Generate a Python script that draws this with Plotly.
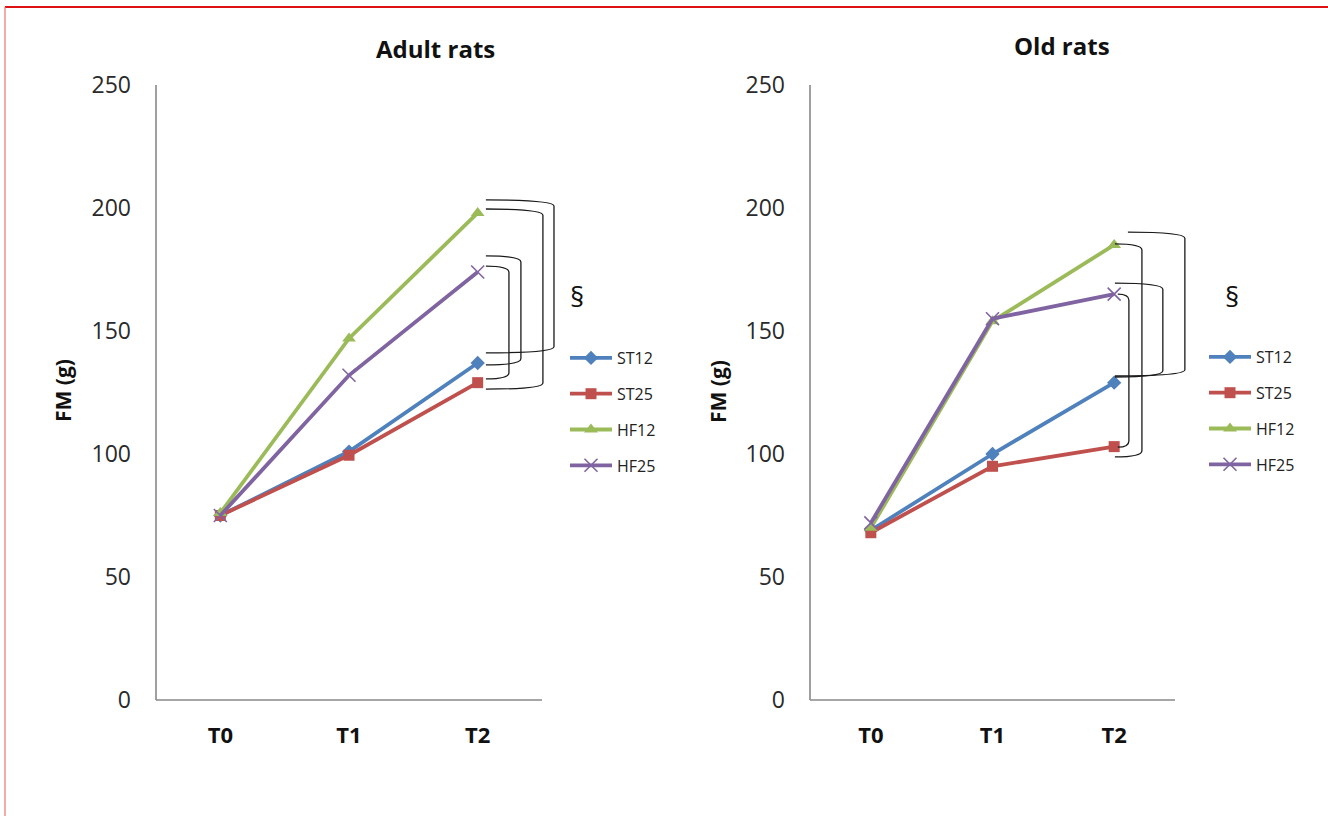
import plotly.graph_objects as go

# ---------------- data ----------------
categories = ["T0", "T1", "T2"]
series_names = ["ST12", "ST25", "HF12", "HF25"]

adult_st12 = [75, 101, 137]
adult_st25 = [75, 99.5, 129]
adult_hf12 = [76, 147, 198]
adult_hf25 = [75, 132, 174]

old_st12 = [69, 100, 129]
old_st25 = [68, 95, 103]
old_hf12 = [70, 154, 185]
old_hf25 = [72, 155, 165]

y_ticks = [0, 50, 100, 150, 200, 250]

panel_titles = ["Adult rats", "Old rats"]
y_title = "FM (g)"
sig_mark = "§"

# significance brackets: (x_left_top, y_top, x_left_bottom, y_bottom, x_right)
adult_brackets = [
    (2.064, 203.3, 2.064, 141.1, 2.593),
    (2.064, 199.6, 2.064, 126.4, 2.507),
    (2.064, 180.5, 2.064, 136.2, 2.336),
    (2.064, 176.4, 2.064, 130.5, 2.243),
]
old_brackets = [
    (2.113, 190.2, 2.006, 131.7, 2.581),
    (2.006, 185.4, 2.006, 98.8, 2.228),
    (2.006, 169.5, 2.006, 131.3, 2.400),
    (2.030, 165.0, 2.030, 102.8, 2.121),
]

# ---------------- styles ----------------
colors = {"ST12": "#4F81BD", "ST25": "#C0504D", "HF12": "#9BBB59", "HF25": "#8064A2"}
symbols = {"ST12": "diamond", "ST25": "square", "HF12": "triangle-up", "HF25": "x-thin"}
msizes = {"ST12": 11, "ST25": 11, "HF12": 12, "HF25": 13}

W, H = 1328, 816
FONT = "Open Sans"
xpos = list(range(len(categories)))

fig = go.Figure()

panels = [
    ("x", "y", "legend", [adult_st12, adult_st25, adult_hf12, adult_hf25]),
    ("x2", "y2", "legend2", [old_st12, old_st25, old_hf12, old_hf25]),
]

for xa, ya, leg, vals in panels:
    for name, v in zip(series_names, vals):
        c = colors[name]
        if symbols[name] == "x-thin":
            marker = dict(symbol="x-thin", size=msizes[name], color=c,
                          line=dict(width=1.6, color=c))
        else:
            marker = dict(symbol=symbols[name], size=msizes[name], color=c,
                          line=dict(width=0))
        fig.add_trace(go.Scatter(
            x=xpos, y=v, name=name, mode="lines+markers",
            line=dict(color=c, width=3.8), marker=marker,
            xaxis=xa, yaxis=ya, legend=leg, legendgroup=leg + name,
            cliponaxis=False,
        ))


def px_x(p):
    return p / W


def px_y(p):
    return 1 - p / H


y_dom = [px_y(704), px_y(80)]
y_rng = [-4 / 2.46, 620 / 2.46]

axis_common = dict(showgrid=False, zeroline=False, showline=False, ticks="", automargin=False)

fig.update_layout(
    template="none",
    width=W, height=H,
    margin=dict(l=0, r=0, t=0, b=0, pad=0, autoexpand=False),
    paper_bgcolor="white", plot_bgcolor="white",
    font=dict(family=FONT, color="#222222"),
    xaxis=dict(domain=[px_x(152), px_x(560)], range=[-0.5 - 4 / 128.67, -0.5 + 404 / 128.67],
               tickvals=xpos, ticktext=categories, anchor="y",
               tickfont=dict(size=22, family=FONT, color="#111111", weight="bold"),
               ticklabelstandoff=16, **axis_common),
    yaxis=dict(domain=y_dom, range=y_rng, tickvals=y_ticks, anchor="x",
               tickfont=dict(size=23, family=FONT, color="#2a2a2a"),
               ticklabelstandoff=20, **axis_common),
    xaxis2=dict(domain=[px_x(806), px_x(1192)], range=[-0.5 - 4 / 121.67, -0.5 + 382 / 121.67],
                tickvals=xpos, ticktext=categories, anchor="y2",
                tickfont=dict(size=22, family=FONT, color="#111111", weight="bold"),
                ticklabelstandoff=16, **axis_common),
    yaxis2=dict(domain=y_dom, range=y_rng, tickvals=y_ticks, anchor="x2",
                tickfont=dict(size=23, family=FONT, color="#2a2a2a"),
                ticklabelstandoff=20, **axis_common),
    legend=dict(x=px_x(565), y=px_y(341), xanchor="left", yanchor="top",
                font=dict(size=16, family=FONT, color="#222222"),
                itemwidth=42, traceorder="grouped", tracegroupgap=12,
                bgcolor="rgba(0,0,0,0)", borderwidth=0),
    legend2=dict(x=px_x(1204), y=px_y(340), xanchor="left", yanchor="top",
                 font=dict(size=16, family=FONT, color="#222222"),
                 itemwidth=42, traceorder="grouped", tracegroupgap=12,
                 bgcolor="rgba(0,0,0,0)", borderwidth=0),
)

shapes = []
axis_col = "#888888"
for xa, ya in [("x", "y"), ("x2", "y2")]:
    shapes.append(dict(type="line", xref=xa, yref=ya, x0=-0.5, x1=2.5, y0=0, y1=0,
                       line=dict(color=axis_col, width=1.6), layer="below"))
    shapes.append(dict(type="line", xref=xa, yref=ya, x0=-0.5, x1=-0.5, y0=0, y1=y_ticks[-1],
                       line=dict(color=axis_col, width=1.6), layer="below"))


def bracket_path(b, d=2.5):
    xl_t, yt, xl_b, yb, xr = b
    return (f"M {xl_t},{yt} Q {xr},{yt} {xr},{yt - d} "
            f"L {xr},{yb + d} Q {xr},{yb} {xl_b},{yb}")


for xa, ya, brs in [("x", "y", adult_brackets), ("x2", "y2", old_brackets)]:
    for b in brs:
        shapes.append(dict(type="path", xref=xa, yref=ya, path=bracket_path(b),
                           line=dict(color="#1a1a1a", width=1.3)))

# red frame of the original figure
shapes.append(dict(type="line", xref="paper", yref="paper", x0=px_x(5), x1=1, y0=px_y(7), y1=px_y(7),
                   line=dict(color="#dd1111", width=2)))
shapes.append(dict(type="line", xref="paper", yref="paper", x0=px_x(5), x1=px_x(5), y0=0, y1=px_y(7),
                   line=dict(color="#f07070", width=1.2)))
fig.update_layout(shapes=shapes)


def note(text, x, y, size, angle=0):
    return dict(text=text, x=px_x(x), y=px_y(y), xref="paper", yref="paper",
                xanchor="center", yanchor="middle", showarrow=False, textangle=angle,
                font=dict(size=size, family=FONT, color="#111111"))


annotations = [
    note(f"<b>{panel_titles[0]}</b>", 435, 48, 24),
    note(f"<b>{panel_titles[1]}</b>", 1062, 45, 24),
    note(f"<b>{y_title}</b>", 63, 391, 21, -90),
    note(f"<b>{y_title}</b>", 718, 391, 21, -90),
    note(sig_mark, 577, 296, 28),
    note(sig_mark, 1232, 296, 28),
]
fig.update_layout(annotations=annotations)

fig.write_html("out.html", config={"displayModeBar": False},
               post_script="document.body.style.margin='0px';")
